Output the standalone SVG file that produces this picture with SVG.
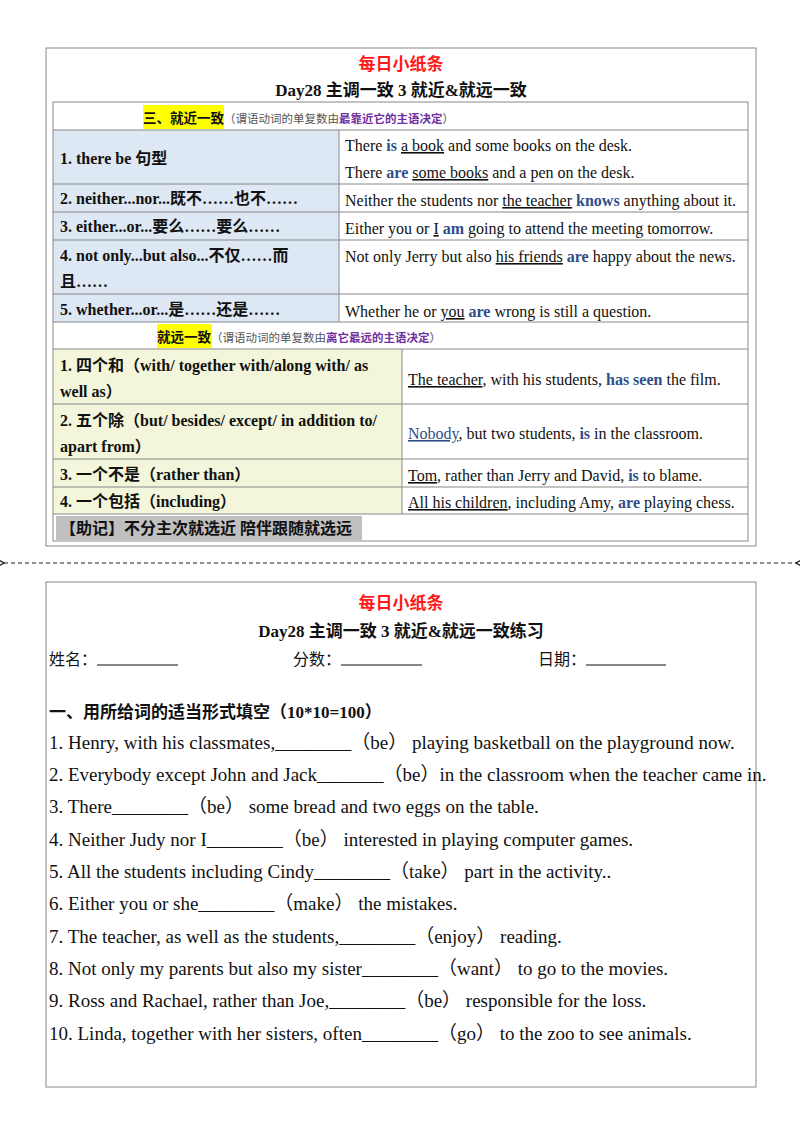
<svg xmlns="http://www.w3.org/2000/svg" width="800" height="1132" viewBox="0 0 800 1132">
<defs>
<style>
text{font-family:"Liberation Serif","Noto Sans CJK SC",serif;fill:#111}
.t{font-size:16px}
.b{font-weight:bold}
.l{font-size:16px;font-weight:bold}
.r{fill:#ff1a1a;font-size:17px;font-weight:bold}
.h{font-size:17px;font-weight:bold}
.bl{fill:#2f4e8a;font-weight:bold}
.pu{fill:#7030a0;font-weight:bold}
.g{fill:#555;font-size:11.5px}
.u{text-decoration:underline}
.c{stroke:#888;stroke-width:1;fill:none}
.q{font-size:19px}
</style>
<marker id="ah" markerWidth="8" markerHeight="8" refX="1" refY="4" orient="auto-start-reverse"><path d="M7,0.5 L1,4 L7,7.5" fill="none" stroke="#222" stroke-width="1.3"/></marker>
</defs>
<rect width="800" height="1132" fill="#fff"/>
<g id="top-card">
<rect x="46" y="48" width="710" height="498" class="c" stroke-width="1.5"/>
<text x="401" y="70" text-anchor="middle" class="r">每日小纸条</text>
<text x="401" y="96" text-anchor="middle" class="h">Day28  主调一致 3  就近&amp;就远一致</text>
<rect x="53" y="130" width="286" height="192" fill="#dde8f4"/>
<rect x="53" y="349" width="349" height="165" fill="#f3f6da"/>
<rect x="143" y="105" width="81" height="24" fill="#ffff00"/>
<rect x="157" y="324" width="55" height="24" fill="#ffff00"/>
<rect x="56" y="516" width="306" height="24" fill="#c0c0c0"/>
<g class="c">
<rect x="53" y="102" width="695" height="439"/>
<path d="M53 130H748M53 184H748M53 212H748M53 240H748M53 294H748M53 322H748M53 349H748M53 404H748M53 459H748M53 487H748M53 514H748M339 130V322M402 349V514"/>
</g>
<text x="143" y="123" class="g"><tspan class="b" fill="#111" font-size="13.5">三、就近一致</tspan>（谓语动词的单复数由<tspan class="pu">最靠近它的主语决定</tspan>）</text>
<text x="60" y="164" class="l">1. there be  句型</text>
<text x="345" y="151" class="t">There <tspan class="bl">is</tspan> <tspan class="u">a book</tspan> and some books on the desk.</text>
<text x="345" y="178" class="t">There <tspan class="bl">are</tspan> <tspan class="u">some books</tspan> and a pen on the desk.</text>
<text x="60" y="204" class="l">2. neither...nor...既不……也不……</text>
<text x="345" y="206" class="t">Neither the students nor <tspan class="u">the teacher</tspan> <tspan class="bl">knows</tspan> anything about it.</text>
<text x="60" y="232" class="l">3. either...or...要么……要么……</text>
<text x="345" y="234" class="t">Either you or <tspan class="u">I</tspan> <tspan class="bl">am</tspan> going to attend the meeting tomorrow.</text>
<text x="60" y="261" class="l">4. not only...but also...不仅……而</text>
<text x="60" y="287" class="l">且……</text>
<text x="345" y="262" class="t">Not only Jerry but also <tspan class="u">his friends</tspan> <tspan class="bl">are</tspan> happy about the news.</text>
<text x="60" y="315" class="l">5. whether...or...是……还是……</text>
<text x="345" y="317" class="t">Whether he or <tspan class="u">you</tspan> <tspan class="bl">are</tspan> wrong is still a question.</text>
<text x="157" y="342" class="g"><tspan class="b" fill="#111" font-size="13.5">就远一致</tspan>（谓语动词的单复数由<tspan class="pu">离它最远的主语决定</tspan>）</text>
<text x="60" y="371" class="l">1.  四个和（with/ together with/along with/ as</text>
<text x="60" y="397" class="l">well as）</text>
<text x="408" y="385" class="t"><tspan class="u">The teacher</tspan>, with his students, <tspan class="bl">has seen</tspan> the film.</text>
<text x="60" y="426" class="l">2.  五个除（but/ besides/ except/ in addition to/</text>
<text x="60" y="452" class="l">apart from）</text>
<text x="408" y="439" class="t"><tspan class="u" fill="#2f4e8a">Nobody</tspan>, but two students, <tspan class="bl">is</tspan> in the classroom.</text>
<text x="60" y="480" class="l">3.  一个不是（rather than）</text>
<text x="408" y="481" class="t"><tspan class="u">Tom</tspan>, rather than Jerry and David, <tspan class="bl">is</tspan> to blame.</text>
<text x="60" y="507" class="l">4.  一个包括（including）</text>
<text x="408" y="508" class="t"><tspan class="u">All his children</tspan>, including Amy, <tspan class="bl">are</tspan> playing chess.</text>
<text x="60" y="534" class="l">【助记】不分主次就选近  陪伴跟随就选远</text>
</g>
<g id="connectors">
<line x1="4" y1="563" x2="796" y2="563" stroke="#222" stroke-width="1" stroke-dasharray="4,3" marker-start="url(#ah)" marker-end="url(#ah)"/>
</g>
<g id="bottom-card">
<rect x="46" y="582" width="710" height="505" class="c" stroke-width="1.5"/>
<text x="401" y="609" text-anchor="middle" class="r">每日小纸条</text>
<text x="401" y="637" text-anchor="middle" class="h">Day28  主调一致 3  就近&amp;就远一致练习</text>
<text x="49" y="665" class="t">姓名：</text><line x1="97" y1="665" x2="178" y2="665" stroke="#111"/>
<text x="293" y="665" class="t">分数：</text><line x1="341" y1="665" x2="422" y2="665" stroke="#111"/>
<text x="538" y="665" class="t">日期：</text><line x1="586" y1="665" x2="666" y2="665" stroke="#111"/>
<text x="49" y="718" class="h" font-size="18">一、用所给词的适当形式填空（10*10=100）</text>
<g class="q">
<text x="49" y="749">1. Henry, with his classmates,________（be） playing basketball on the playground now.</text>
<text x="49" y="781">2. Everybody except John and Jack_______（be）in the classroom when the teacher came in.</text>
<text x="49" y="813">3. There________（be） some bread and two eggs on the table.</text>
<text x="49" y="846">4. Neither Judy nor I________（be） interested in playing computer games.</text>
<text x="49" y="878">5. All the students including Cindy________（take） part in the activity..</text>
<text x="49" y="910">6. Either you or she________（make） the mistakes.</text>
<text x="49" y="943">7. The teacher, as well as the students,________（enjoy） reading.</text>
<text x="49" y="975">8. Not only my parents but also my sister________（want） to go to the movies.</text>
<text x="49" y="1007">9. Ross and Rachael, rather than Joe,________（be） responsible for the loss.</text>
<text x="49" y="1040">10. Linda, together with her sisters, often________（go） to the zoo to see animals.</text>
</g>
</g>
</svg>
